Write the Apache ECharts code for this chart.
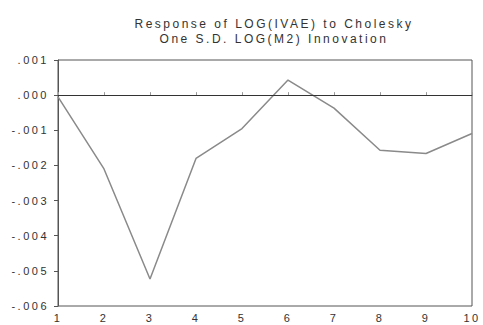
<!DOCTYPE html>
<html><head><meta charset="utf-8">
<script src="https://cdn.jsdelivr.net/npm/echarts@6/dist/echarts.min.js"></script>
<style>html,body{margin:0;padding:0;background:#fff}#c{width:483px;height:325px}#c text{letter-spacing:2.5px}</style>
</head><body><div id="c"></div>
<script>
const categories = ['1','2','3','4','5','6','7','8','9','10'];
const response = [-0.00005, -0.0021, -0.00523, -0.0018, -0.00095, 0.00043, -0.00037, -0.00157, -0.00166, -0.00109];
const titleLines = ['Response of LOG(IVAE) to Cholesky', 'One S.D. LOG(M2) Innovation'];
const yMin = -0.006, yMax = 0.001, yStep = 0.001;

const chart = echarts.init(document.getElementById('c'), null, { renderer: 'svg' });
const fmt = v => { let s = Math.abs(v).toFixed(3).replace(/^0/, ''); return (v < -1e-9 ? '-' : '') + s; };
chart.setOption({
  animation: false,
  title: { text: titleLines.join('\n'), left: 269, top: 11, textAlign: 'center',
    textStyle: { fontFamily: 'Liberation Sans', fontSize: 12, fontWeight: 'normal', color: '#333', lineHeight: 15 } },
  grid: { left: 58, right: 11, top: 60, bottom: 19, show: true, borderColor: '#555', borderWidth: 1, backgroundColor: 'transparent' },
  xAxis: { type: 'category', data: categories, boundaryGap: false,
    axisLine: { lineStyle: { color: '#555' } },
    axisTick: { show: true, inside: true, length: 3, lineStyle: { color: '#999' } },
    axisLabel: { fontFamily: 'Liberation Sans', fontSize: 11, color: '#333', margin: 6 },
    splitLine: { show: false } },
  yAxis: { type: 'value', min: yMin, max: yMax, interval: yStep,
    axisLine: { show: true, lineStyle: { color: '#555' } },
    axisTick: { show: true, length: 4, lineStyle: { color: '#555' } },
    axisLabel: { fontFamily: 'Liberation Sans', fontSize: 11, color: '#333', margin: 9, formatter: fmt },
    splitLine: { show: false } },
  series: [{ type: 'line', data: response, symbol: 'none',
    lineStyle: { color: '#8a8a8a', width: 1.5 },
    markLine: { silent: true, symbol: 'none', label: { show: false },
      lineStyle: { color: '#333', width: 1, type: 'solid' }, data: [{ yAxis: 0 }] } }]
});
</script></body></html>
